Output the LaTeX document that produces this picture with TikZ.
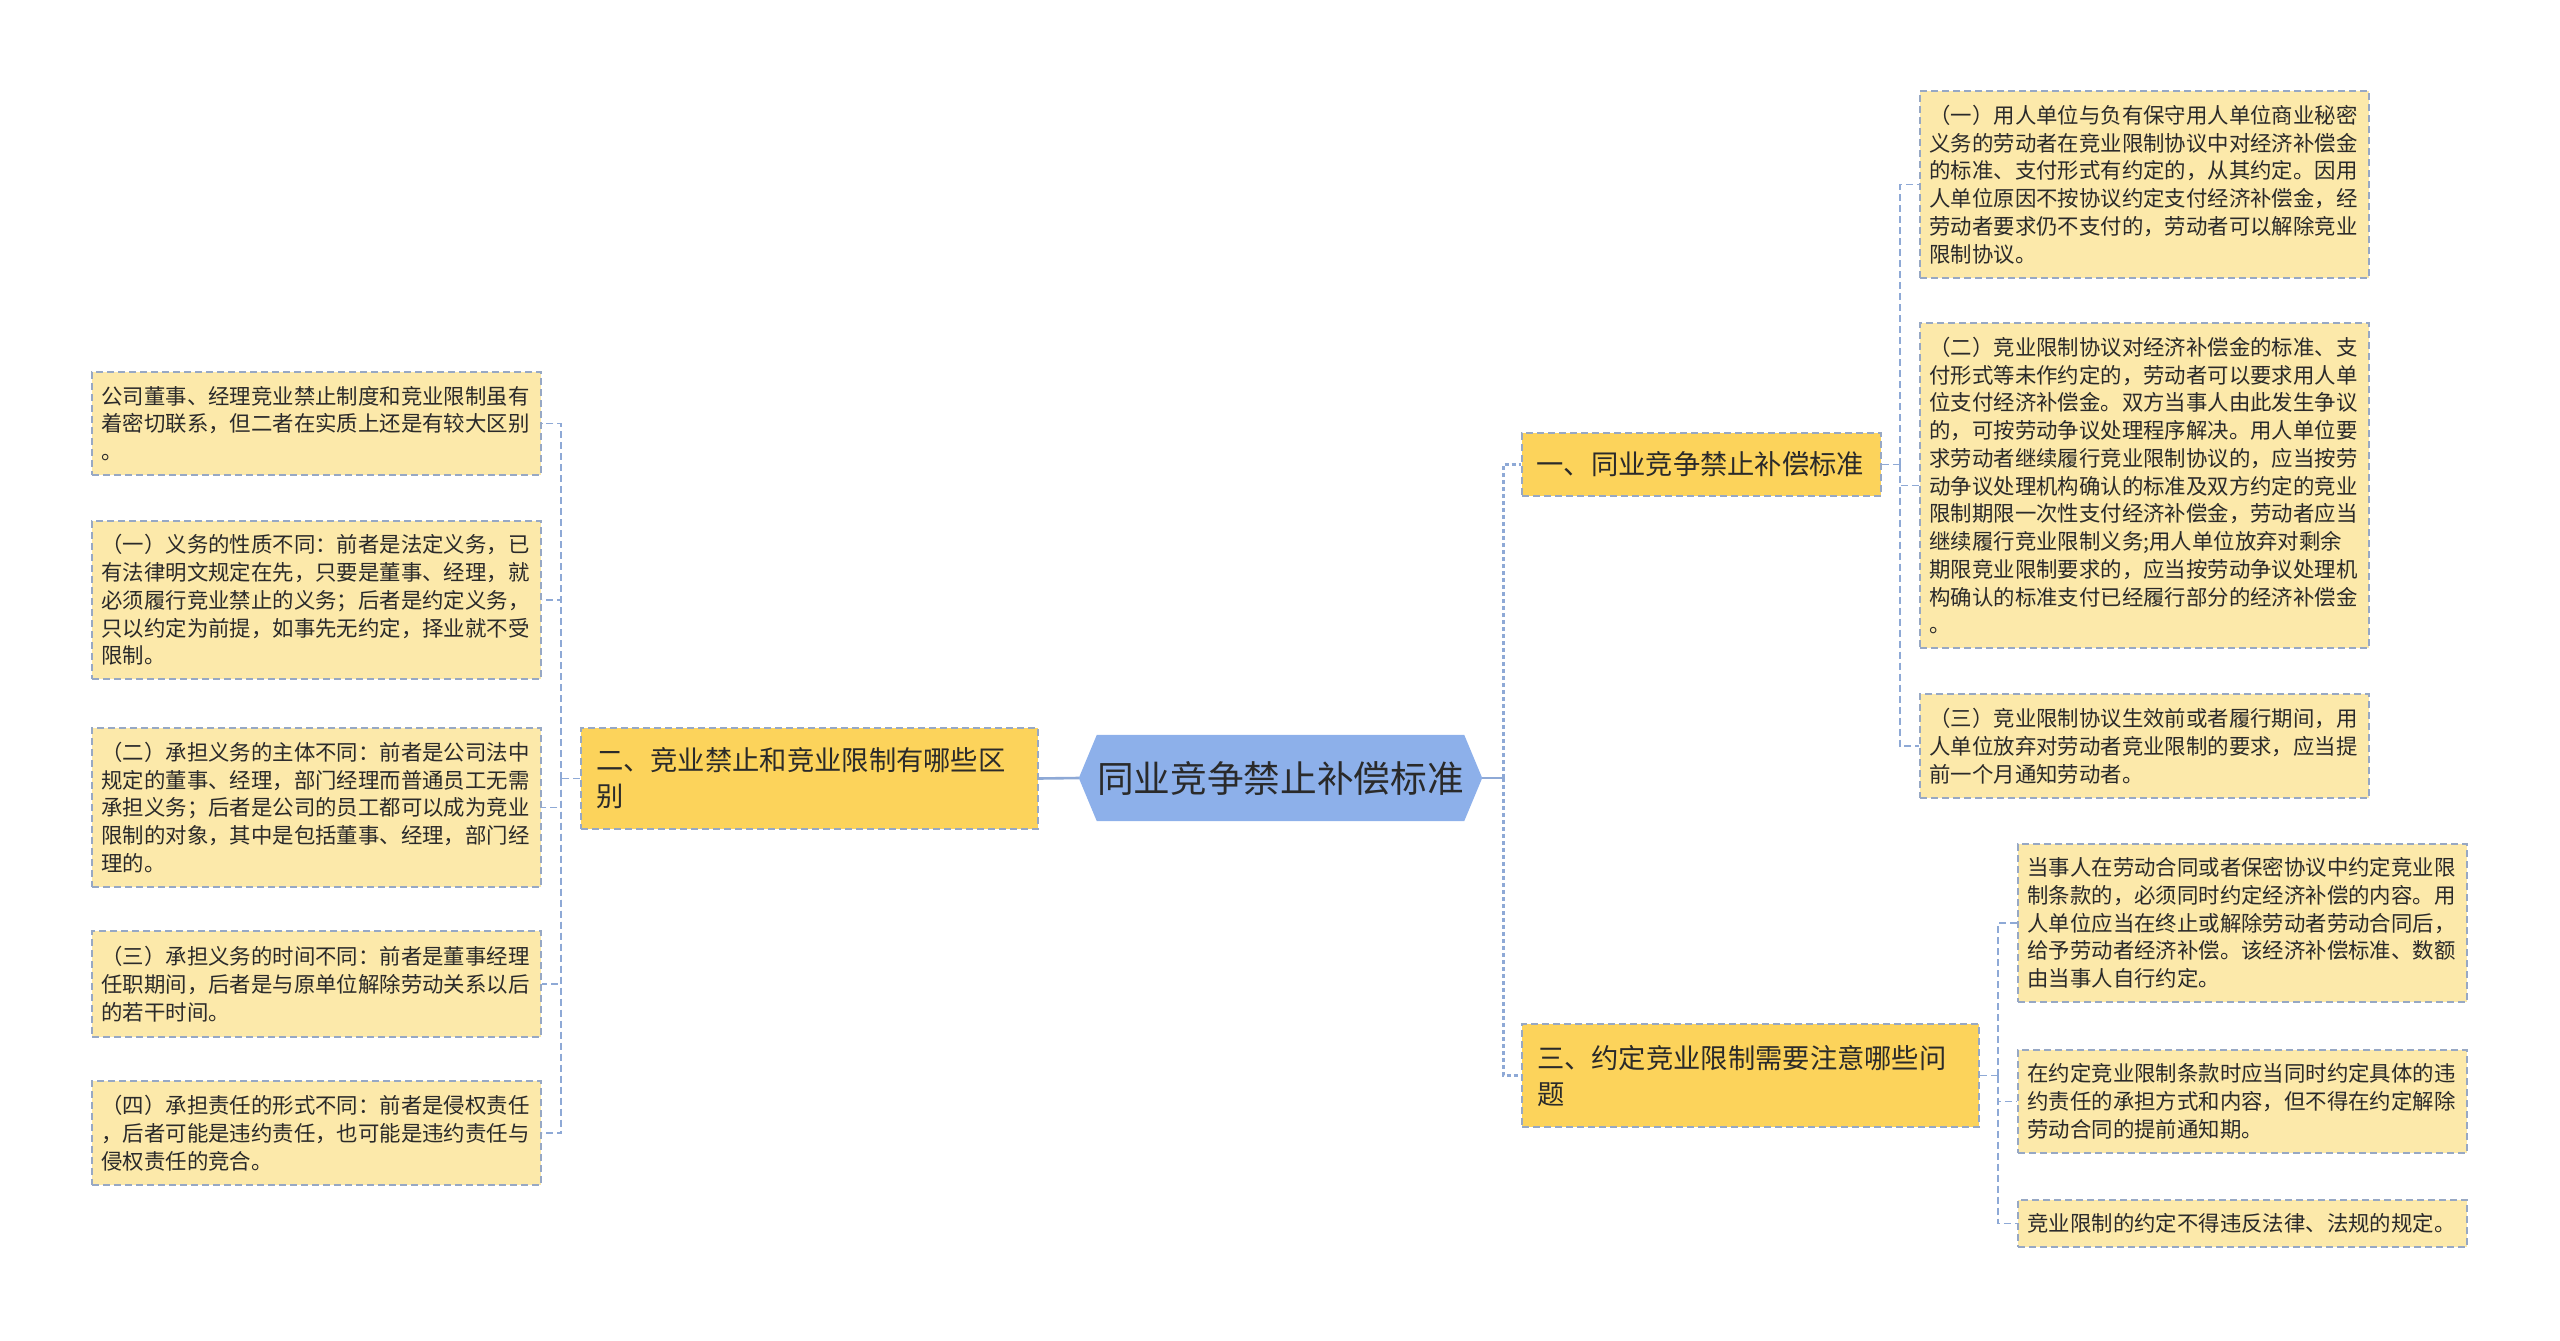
\documentclass[tikz,border=0pt]{standalone}
\usepackage{fontspec}
\newfontfamily\cjkfont{Noto Sans CJK SC}
\usepackage{tikz}
\usetikzlibrary{calc,backgrounds}

\definecolor{leafyellow}{HTML}{FCE9AA}
\definecolor{branchgold}{HTML}{FCD35B}
\definecolor{hubblue}{HTML}{8DB0EA}
\definecolor{edgegray}{HTML}{97A8C4}
\definecolor{linkblue}{HTML}{8EA9D6}
\definecolor{inktext}{HTML}{2A2A2A}

\newcommand{\leaffont}{\cjkfont\fontsize{21.4pt}{27.75pt}\selectfont}
\newcommand{\branchfont}{\cjkfont\fontsize{27.3pt}{36pt}\selectfont}
\newcommand{\hubfont}{\cjkfont\fontsize{36.7pt}{44pt}\selectfont}

\begin{document}
\begin{tikzpicture}[x=1pt,y=-1pt,
    leaf/.style={draw=edgegray, fill=leafyellow, line width=1.5pt,
      dash pattern=on 7pt off 4pt, text=inktext, font=\leaffont,
      text width=430pt, inner xsep=9.5pt, inner ysep=0pt, align=left},
    branch/.style={draw=edgegray, fill=branchgold, line width=1.5pt,
      dash pattern=on 7pt off 4pt, text=inktext, font=\branchfont,
      inner xsep=15pt, inner ysep=0pt, align=left},
    link/.style={draw=linkblue, line width=1.6pt, dash pattern=on 7pt off 4pt},
    hubline/.style={draw=linkblue, line width=2.6pt},
    hubdots/.style={draw=linkblue, line width=3pt, dash pattern=on 4pt off 3pt}]
  \useasboundingbox (0,0) rectangle (2560,1341);

  % centre
  \node (hub) at (1280.5,778) [minimum width=403pt, minimum height=86pt,
    inner sep=0pt, font=\hubfont, text=inktext] {同业竞争禁止补偿标准};
  \begin{scope}[on background layer]
    \fill[hubblue] (hub.west) -- ($(hub.north west)+(18,0)$)
      -- ($(hub.north east)+(-18,0)$) -- (hub.east)
      -- ($(hub.south east)+(-18,0)$) -- ($(hub.south west)+(18,0)$) -- cycle;
  \end{scope}

  % 二、竞业禁止和竞业限制有哪些区别
  \node (b2) at (809.5,778.5) [branch, text width=427pt, minimum height=101pt]
    {二、竞业禁止和竞业限制有哪些区\\别};
  \node (l1) at (316.5,423.5) [leaf, minimum height=103pt]
    {公司董事、经理竞业禁止制度和竞业限制虽有\\着密切联系，但二者在实质上还是有较大区别\\。};
  \node (l2) at (316.5,600) [leaf, minimum height=158pt]
    {（一）义务的性质不同：前者是法定义务，已\\有法律明文规定在先，只要是董事、经理，就\\必须履行竞业禁止的义务；后者是约定义务，\\只以约定为前提，如事先无约定，择业就不受\\限制。};
  \node (l3) at (316.5,807.5) [leaf, minimum height=159pt]
    {（二）承担义务的主体不同：前者是公司法中\\规定的董事、经理，部门经理而普通员工无需\\承担义务；后者是公司的员工都可以成为竞业\\限制的对象，其中是包括董事、经理，部门经\\理的。};
  \node (l4) at (316.5,984) [leaf, minimum height=106pt]
    {（三）承担义务的时间不同：前者是董事经理\\任职期间，后者是与原单位解除劳动关系以后\\的若干时间。};
  \node (l5) at (316.5,1133) [leaf, minimum height=104pt]
    {（四）承担责任的形式不同：前者是侵权责任\\，后者可能是违约责任，也可能是违约责任与\\侵权责任的竞合。};

  % 一、同业竞争禁止补偿标准
  \node (b1) at (1701.5,464.5) [branch, text width=330pt, inner xsep=14.5pt,
    minimum height=63pt] {一、同业竞争禁止补偿标准};
  \node (r1) at (2144.5,184.5) [leaf, minimum height=187pt]
    {（一）用人单位与负有保守用人单位商业秘密\\义务的劳动者在竞业限制协议中对经济补偿金\\的标准、支付形式有约定的，从其约定。因用\\人单位原因不按协议约定支付经济补偿金，经\\劳动者要求仍不支付的，劳动者可以解除竞业\\限制协议。};
  \node (r2) at (2144.5,485.5) [leaf, minimum height=325pt]
    {（二）竞业限制协议对经济补偿金的标准、支\\付形式等未作约定的，劳动者可以要求用人单\\位支付经济补偿金。双方当事人由此发生争议\\的，可按劳动争议处理程序解决。用人单位要\\求劳动者继续履行竞业限制协议的，应当按劳\\动争议处理机构确认的标准及双方约定的竞业\\限制期限一次性支付经济补偿金，劳动者应当\\继续履行竞业限制义务;用人单位放弃对剩余\\期限竞业限制要求的，应当按劳动争议处理机\\构确认的标准支付已经履行部分的经济补偿金\\。};
  \node (r3) at (2144.5,746) [leaf, minimum height=104pt]
    {（三）竞业限制协议生效前或者履行期间，用\\人单位放弃对劳动者竞业限制的要求，应当提\\前一个月通知劳动者。};

  % 三、约定竞业限制需要注意哪些问题
  \node (b3) at (1750.5,1075.5) [branch, text width=427pt, minimum height=103pt]
    {三、约定竞业限制需要注意哪些问\\题};
  \node (s1) at (2242.5,923) [leaf, minimum height=158pt]
    {当事人在劳动合同或者保密协议中约定竞业限\\制条款的，必须同时约定经济补偿的内容。用\\人单位应当在终止或解除劳动者劳动合同后，\\给予劳动者经济补偿。该经济补偿标准、数额\\由当事人自行约定。};
  \node (s2) at (2242.5,1101.5) [leaf, minimum height=103pt]
    {在约定竞业限制条款时应当同时约定具体的违\\约责任的承担方式和内容，但不得在约定解除\\劳动合同的提前通知期。};
  \node (s3) at (2242.5,1223.5) [leaf, minimum height=47pt]
    {竞业限制的约定不得违反法律、法规的规定。};

  % connectors
  \draw[hubline] (hub.west) -- (b2.east);
  \draw[hubline] (hub.east) -- ++(21,0) coordinate (hubbus);
  \draw[hubdots] (hubbus) |- (b1.west);
  \draw[hubdots] (hubbus) |- (b3.west);

  \draw[link] (b2.west) -- ++(-19,0) coordinate (lbus);
  \draw[link] (lbus) |- (l1.east);
  \draw[link] (lbus) |- (l2.east);
  \draw[link] (lbus) |- (l3.east);
  \draw[link] (lbus) |- (l4.east);
  \draw[link] (lbus) |- (l5.east);

  \draw[link] (b1.east) -- ++(18,0) coordinate (rbus1);
  \draw[link] (rbus1) |- (r1.west);
  \draw[link] (rbus1) |- (r2.west);
  \draw[link] (rbus1) |- (r3.west);

  \draw[link] (b3.east) -- ++(18,0) coordinate (rbus3);
  \draw[link] (rbus3) |- (s1.west);
  \draw[link] (rbus3) |- (s2.west);
  \draw[link] (rbus3) |- (s3.west);
\end{tikzpicture}
\end{document}
